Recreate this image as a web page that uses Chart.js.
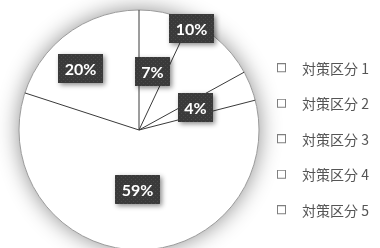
<!DOCTYPE html>
<html><head><meta charset="utf-8">
<script src="https://cdn.jsdelivr.net/npm/chart.js@4/dist/chart.umd.min.js"></script>
<style>html,body{margin:0;padding:0;background:#fff;overflow:hidden}#wrap{width:380px;height:248px;position:relative}</style>
</head><body><div id="wrap"><canvas id="c" width="380" height="248"></canvas></div>
<script>
const categories = ['対策区分 1', '対策区分 2', '対策区分 3', '対策区分 4', '対策区分 5'];
const shares = [7, 10, 4, 59, 20];
const shareLabels = ['7%', '10%', '4%', '59%', '20%'];
const labelRadialFraction = [0.5, 0.954, 0.51, 0.5, 0.707];
const labelAngleShiftDeg = [0, -16, 0, 0, -8];

// legend marker: small outlined square at the left of a wider box
const marker = document.createElement('canvas');
marker.width = 18; marker.height = 10;
(function(){ const m = marker.getContext('2d'); m.strokeStyle = '#7f7f7f'; m.lineWidth = 1; m.fillStyle = '#fff'; m.fillRect(0.5,0.5,8,8); m.strokeRect(0.5, 0.5, 8, 8); })();

// dotted dark fill for data labels
const pat = document.createElement('canvas');
pat.width = 4; pat.height = 4;
(function(){ const p = pat.getContext('2d'); p.fillStyle = '#3a3a3a'; p.fillRect(0,0,4,4); p.fillStyle = '#4a4a4a'; p.fillRect(1,1,1,1); p.fillRect(3,3,1,1); })();

const pieDecor = {
  id: 'pieDecor',
  beforeDatasetsDraw(chart) {
    const arcs = chart.getDatasetMeta(0).data;
    if (!arcs.length) return;
    const {x, y, outerRadius} = arcs[0].getProps(['x', 'y', 'outerRadius'], true);
    const ctx = chart.ctx;
    ctx.save();
    ctx.shadowColor = 'rgba(0,0,0,0.45)';
    ctx.shadowBlur = 22;
    ctx.beginPath(); ctx.arc(x, y, outerRadius, 0, Math.PI * 2);
    ctx.fillStyle = '#fff'; ctx.fill();
    ctx.restore();
  },
  afterDatasetsDraw(chart) {
    const arcs = chart.getDatasetMeta(0).data;
    const ctx = chart.ctx;
    const p0 = arcs[0].getProps(['x', 'y', 'outerRadius'], true);
    ctx.save();
    ctx.beginPath(); ctx.arc(p0.x, p0.y, p0.outerRadius, 0, Math.PI * 2);
    ctx.strokeStyle = '#9a9a9a'; ctx.lineWidth = 1; ctx.stroke();
    ctx.strokeStyle = '#3a3a3a'; ctx.lineWidth = 1;
    arcs.forEach(a => {
      const p = a.getProps(['x', 'y', 'startAngle', 'outerRadius'], true);
      ctx.beginPath(); ctx.moveTo(p.x, p.y);
      ctx.lineTo(p.x + Math.cos(p.startAngle) * p.outerRadius, p.y + Math.sin(p.startAngle) * p.outerRadius);
      ctx.stroke();
    });
    ctx.font = 'bold 16px Lato';
    ctx.textAlign = 'center'; ctx.textBaseline = 'middle';
    const fill = ctx.createPattern(pat, 'repeat');
    arcs.forEach((a, i) => {
      const p = a.getProps(['x', 'y', 'startAngle', 'endAngle', 'outerRadius'], true);
      const ang = (p.startAngle + p.endAngle) / 2 + labelAngleShiftDeg[i] * Math.PI / 180;
      const r = p.outerRadius * labelRadialFraction[i];
      const lx = p.x + Math.cos(ang) * r, ly = p.y + Math.sin(ang) * r;
      const txt = shareLabels[i];
      const w = Math.round(ctx.measureText(txt).width + 13), h = 29;
      const bx = Math.round(lx - w / 2), by = Math.round(ly - h / 2);
      ctx.save();
      ctx.shadowColor = 'rgba(0,0,0,0.45)'; ctx.shadowBlur = 5; ctx.shadowOffsetX = 2; ctx.shadowOffsetY = 2;
      ctx.fillStyle = fill; ctx.fillRect(bx, by, w, h);
      ctx.restore();
      ctx.fillStyle = '#ffffff';
      ctx.fillText(txt, bx + w / 2, by + h / 2 + 1);
    });
    ctx.restore();
  }
};

new Chart(document.getElementById('c'), {
  type: 'pie',
  data: {
    labels: categories,
    datasets: [{ data: shares, backgroundColor: '#ffffff', borderWidth: 0, radius: 120, clip: false }]
  },
  options: {
    responsive: false, devicePixelRatio: 1, animation: false,
    layout: { padding: { left: 22.5, top: 12, right: 4.5, bottom: 0 } },
    plugins: {
      tooltip: { enabled: false },
      legend: {
        position: 'right', align: 'center', maxWidth: 120,
        title: { display: true, text: '', font: { size: 12 }, padding: { top: 2, bottom: 2 } },
        labels: {
          usePointStyle: true, pointStyleWidth: 18, padding: 21.5,
          color: '#555555',
          font: { family: '"Noto Sans CJK JP", "Noto Sans", sans-serif', size: 14 },
          generateLabels: () => categories.map((t, i) => ({ text: t, pointStyle: marker, fillStyle: '#fff', strokeStyle: '#7f7f7f', lineWidth: 1, hidden: false, index: i, fontColor: '#555555' }))
        }
      }
    }
  },
  plugins: [pieDecor]
});
</script></body></html>
